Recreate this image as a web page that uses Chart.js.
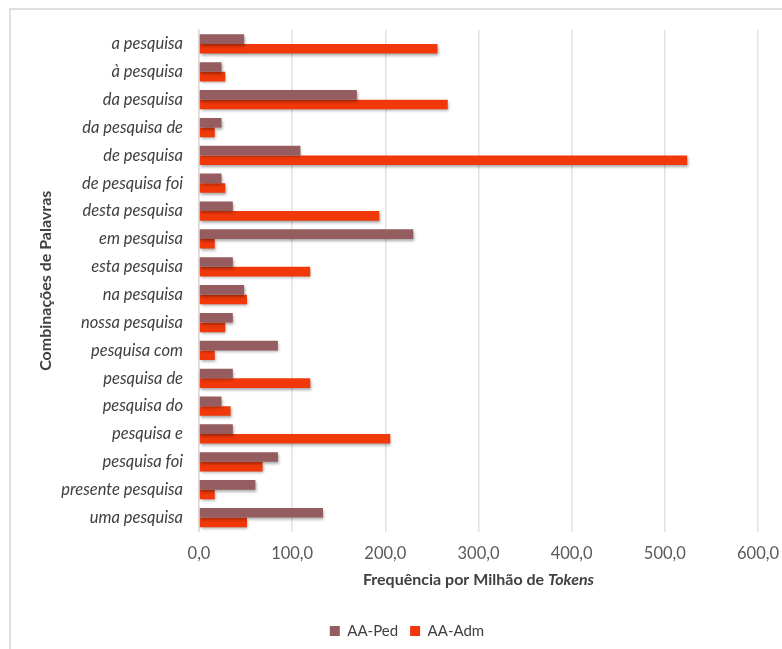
<!DOCTYPE html>
<html lang="pt-BR">
<head>
    <meta charset="UTF-8">
    <title>Combinações de Palavras</title>
    <script src="https://cdn.jsdelivr.net/npm/chart.js"></script>
    <style>
        body { margin: 0; background: #fff; }
        .wrap { position: relative; width: 782px; height: 649px; overflow: hidden; }
        .frame {
            position: absolute; left: 9px; top: 8px; width: 900px; height: 800px;
            border-top: 2px solid #e4dedc; border-left: 2px solid #e4dedc;
        }
        canvas { position: absolute; left: 0; top: 0; }
    </style>
</head>
<body>
    <div class="wrap">
        <div class="frame"></div>
        <canvas id="grafico" width="782" height="649"></canvas>
    </div>

    <script>
        const categorias = ['a pesquisa', 'à pesquisa', 'da pesquisa', 'da pesquisa de', 'de pesquisa',
            'de pesquisa foi', 'desta pesquisa', 'em pesquisa', 'esta pesquisa', 'na pesquisa',
            'nossa pesquisa', 'pesquisa com', 'pesquisa de', 'pesquisa do', 'pesquisa e',
            'pesquisa foi', 'presente pesquisa', 'uma pesquisa'];
        const aaPed = [48.4, 24.2, 169.4, 24.2, 108.9, 24.2, 36.3, 229.9, 36.3, 48.4,
            36.3, 84.7, 36.3, 24.2, 36.3, 84.7, 60.5, 133.1];
        const aaAdm = [256.0, 28.2, 267.0, 16.9, 524.0, 28.2, 193.5, 16.9, 119.4, 51.5,
            28.2, 16.9, 119.4, 33.9, 205.3, 68.3, 16.9, 51.5];
        const ticksX = [0, 100, 200, 300, 400, 500, 600];

        const fonte = 'Lato';

        // sombra leve nas barras, como no Excel
        const sombra = {
            id: 'sombra',
            beforeDatasetsDraw(chart) {
                const c = chart.ctx;
                c.save();
                c.shadowColor = 'rgba(0,0,0,0.35)';
                c.shadowBlur = 3;
                c.shadowOffsetX = 1;
                c.shadowOffsetY = 2;
            },
            afterDatasetsDraw(chart) {
                chart.ctx.restore();
            }
        };

        // legenda centrada na moldura original (mais larga que a imagem)
        const legendaCentro = {
            id: 'legendaCentro',
            afterLayout(chart) {
                chart.legend.left = 0;
                chart.legend.right = 814;
                chart.legend.width = 814;
            }
        };

        // título do eixo x com "Tokens" em itálico
        const tituloX = {
            id: 'tituloX',
            afterDraw(chart) {
                const c = chart.ctx;
                const a = chart.chartArea;
                const parte1 = 'Frequência por Milhão de ';
                const parte2 = 'Tokens';
                c.save();
                c.fillStyle = '#404040';
                c.textBaseline = 'middle';
                c.font = 'bold 16px ' + fonte;
                const w1 = c.measureText(parte1).width;
                c.font = 'italic bold 16px ' + fonte;
                const w2 = c.measureText(parte2).width;
                const x0 = (a.left + a.right) / 2 - (w1 + w2) / 2;
                const y = 580;
                c.font = 'bold 16px ' + fonte;
                c.fillText(parte1, x0, y);
                c.font = 'italic bold 16px ' + fonte;
                c.fillText(parte2, x0 + w1, y);
                c.restore();
            }
        };

        new Chart(document.getElementById('grafico'), {
            type: 'bar',
            data: {
                labels: categorias,
                datasets: [{
                    label: 'AA-Ped',
                    data: aaPed,
                    backgroundColor: '#955d5f',
                    categoryPercentage: 0.69,
                    barPercentage: 1.0
                }, {
                    label: 'AA-Adm',
                    data: aaAdm,
                    backgroundColor: '#f0380a',
                    categoryPercentage: 0.69,
                    barPercentage: 1.0
                }]
            },
            options: {
                indexAxis: 'y',
                responsive: false,
                animation: false,
                layout: { padding: { left: 0, right: 24, top: 30, bottom: 0.5 } },
                plugins: {
                    tooltip: { enabled: false },
                    legend: {
                        position: 'bottom',
                        labels: {
                            boxWidth: 10, boxHeight: 10, padding: 12,
                            color: '#404040',
                            font: { family: fonte, size: 15 }
                        }
                    }
                },
                scales: {
                    x: {
                        min: 0, max: 600,
                        afterBuildTicks(scale) {
                            scale.ticks = ticksX.map(v => ({ value: v }));
                        },
                        afterFit(scale) {
                            scale.height = 80;
                            scale.paddingLeft = 0;
                            scale.paddingRight = 0;
                        },
                        grid: { color: '#e8e0e0', lineWidth: 1.5, drawTicks: false },
                        border: { display: false },
                        ticks: {
                            padding: 12,
                            color: '#595959',
                            font: { family: fonte, size: 16.5 },
                            callback: v => v.toFixed(1).replace('.', ',')
                        }
                    },
                    y: {
                        afterFit(scale) { scale.width = 199; },
                        grid: { display: false, drawTicks: false },
                        border: { display: true, color: '#e0d8d8', width: 1.5 },
                        ticks: {
                            padding: 16,
                            color: '#404040',
                            font: { family: fonte, size: 16.5, style: 'italic' }
                        },
                        title: {
                            display: true,
                            text: 'Combinações de Palavras',
                            color: '#404040',
                            padding: { top: 36, bottom: 0 },
                            font: { family: fonte, size: 16, weight: 'bold' }
                        }
                    }
                }
            },
            plugins: [sombra, legendaCentro, tituloX]
        });
    </script>
</body>
</html>
